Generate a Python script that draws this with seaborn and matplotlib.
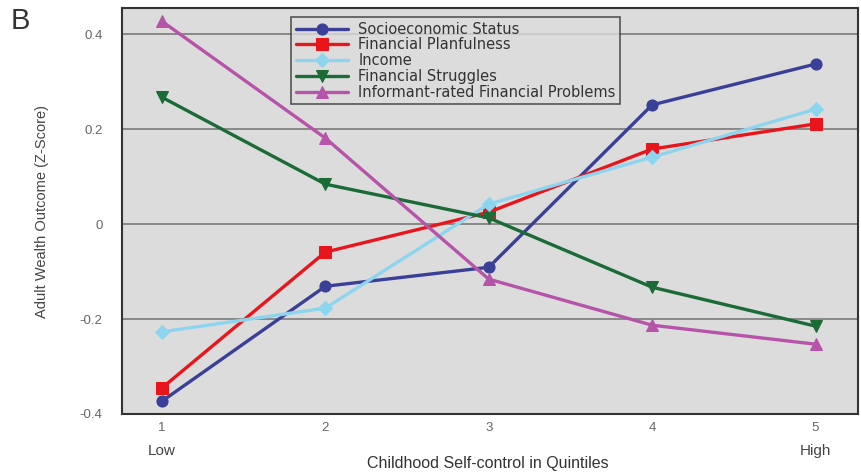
import matplotlib
matplotlib.use("Agg")
import matplotlib.pyplot as plt
import seaborn as sns
import pandas as pd

# Data
quintiles = [1, 2, 3, 4, 5]
ses = [-0.373, -0.131, -0.091, 0.251, 0.337]
planfulness = [-0.345, -0.059, 0.025, 0.158, 0.211]
income = [-0.227, -0.177, 0.042, 0.141, 0.242]
struggles = [0.267, 0.084, 0.013, -0.133, -0.215]
informant = [0.427, 0.181, -0.116, -0.213, -0.253]

series_names = ["Socioeconomic Status", "Financial Planfulness", "Income",
                "Financial Struggles", "Informant-rated Financial Problems"]
series_values = [ses, planfulness, income, struggles, informant]
colors = ["#3a3f98", "#e8161c", "#8dd5ef", "#1b6b36", "#b654a9"]
markers = ["o", "s", "D", "v", "^"]
msizes = [8, 9, 7, 9, 9]

sns.set_style("white")
plt.rcParams["font.family"] = ["Liberation Sans", "DejaVu Sans"]

fig = plt.figure(figsize=(8.61, 4.72), dpi=100)
ax = fig.add_axes([0.1417, 0.1229, 0.8548, 0.8601])
ax.set_facecolor("#dcdcdc")

for name, vals, c, m, ms in zip(series_names, series_values, colors, markers, msizes):
    df = pd.DataFrame({"x": quintiles, "y": vals})
    sns.lineplot(data=df, x="x", y="y", ax=ax, color=c, marker=m, markersize=ms,
                 markeredgecolor=c, linewidth=2.4, label=name)

ax.set_xlim(0.755, 5.26)
ax.set_ylim(-0.4, 0.455)
ax.set_yticks([-0.4, -0.2, 0, 0.2, 0.4])
ax.set_yticklabels(["-0.4", "-0.2", "0", "0.2", "0.4"])
ax.set_xticks(quintiles)
ax.set_xticklabels([str(q) for q in quintiles])
ax.tick_params(axis="both", colors="#666666", labelsize=9.5, length=4, width=1.5,
               direction="in")
ax.tick_params(axis="x", pad=6)
ax.tick_params(axis="y", pad=14)
ax.yaxis.grid(True, color="#7a7a7a", linewidth=1.2)
ax.set_axisbelow(True)
for s in ax.spines.values():
    s.set_color("#333333")
    s.set_linewidth(1.5)

ax.set_xlabel("")
ax.set_ylabel("Adult Wealth Outcome (Z-Score)", fontsize=10.5, color="#444444", labelpad=22)
fig.text(0.566, 0.019, "Childhood Self-control in Quintiles", fontsize=11.5,
         color="#333333", ha="center", va="center")

# Low / High annotations under the end ticks
for q, lab in [(1, "Low"), (5, "High")]:
    ax.annotate(lab, xy=(q, 0), xycoords=("data", "axes fraction"), xytext=(0, -37),
                textcoords="offset pixels", ha="center", va="center", fontsize=11,
                color="#444444")

fig.text(0.012, 0.955, "B", fontsize=21, color="#333333", va="center")

leg = ax.legend(loc="upper left", bbox_to_anchor=(0.220, 0.995),
                prop={"family": "DejaVu Sans", "size": 10.5},
                frameon=True, fancybox=False, borderpad=0.3, labelspacing=0.05,
                handlelength=3.6, handletextpad=0.7, facecolor="#dcdcdc")
leg.get_frame().set_edgecolor("#333333")
leg.get_frame().set_linewidth(1.2)
for t in leg.get_texts():
    t.set_color("#333333")

fig.savefig("out.png", dpi=100)
